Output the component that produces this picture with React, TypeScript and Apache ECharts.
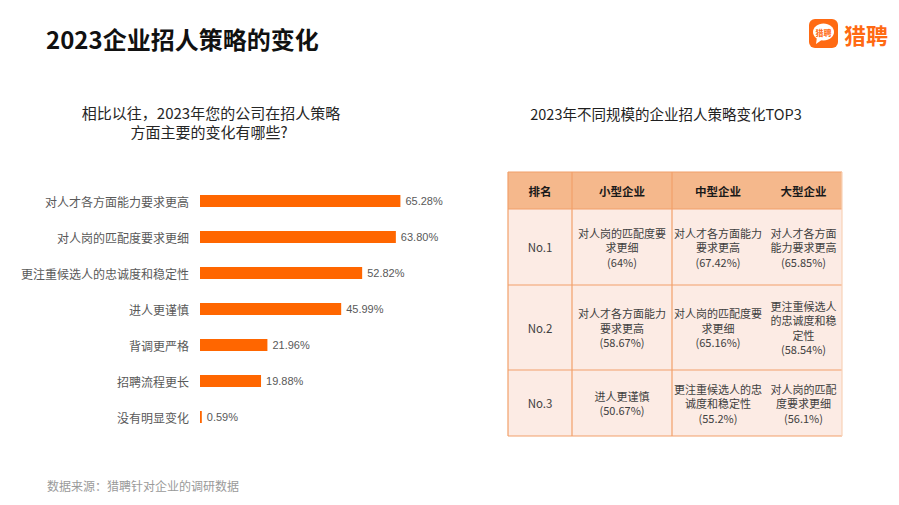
import React, { useEffect, useRef } from "react";
import * as echarts from "echarts";

const FONT = "'Noto Sans CJK SC', 'Noto Sans', sans-serif";

const pageTitle = "2023企业招人策略的变化";
const brandName = "猎聘";
const questionLines = ["相比以往，2023年您的公司在招人策略", "方面主要的变化有哪些?"];
const tableTitle = "2023年不同规模的企业招人策略变化TOP3";
const footnote = "数据来源：猎聘针对企业的调研数据";

const categories = [
  "对人才各方面能力要求更高",
  "对人岗的匹配度要求更细",
  "更注重候选人的忠诚度和稳定性",
  "进人更谨慎",
  "背调更严格",
  "招聘流程更长",
  "没有明显变化",
];
const values = [65.28, 63.8, 52.82, 45.99, 21.96, 19.88, 0.59];

const tableHeaders = ["排名", "小型企业", "中型企业", "大型企业"];
const ranks = ["No.1", "No.2", "No.3"];
const smallItems = ["对人岗的匹配度要\n求更细", "对人才各方面能力\n要求更高", "进人更谨慎"];
const smallPct = ["64%", "58.67%", "50.67%"];
const midItems = ["对人才各方面能力\n要求更高", "对人岗的匹配度要\n求更细", "更注重候选人的忠\n诚度和稳定性"];
const midPct = ["67.42%", "65.16%", "55.2%"];
const largeItems = ["对人才各方面\n能力要求更高", "更注重候选人\n的忠诚度和稳\n定性", "对人岗的匹配\n度要求更细"];
const largePct = ["65.85%", "58.54%", "56.1%"];

function txt(text: string, x: number, y: number, opts: any = {}) {
  const align = opts.align || "center";
  const valign = opts.valign || "middle";
  return {
    type: "text",
    silent: true,
    style: {
      text,
      x,
      y,
      fill: opts.fill || "#333",
      fontSize: opts.fontSize || 12,
      fontWeight: opts.fontWeight || "normal",
      fontFamily: FONT,
      lineHeight: opts.lineHeight,
      align,
      textAlign: align,
      verticalAlign: valign,
      textVerticalAlign: valign,
    },
  };
}

function buildTable() {
  const els: any[] = [];
  const colX = [508, 572, 672, 765, 842];
  const rowY = [172, 209, 285, 370, 436];
  const lineColor = "#F2A06A";
  els.push({ type: "rect", silent: true, shape: { x: colX[0], y: rowY[0], width: colX[4] - colX[0], height: rowY[1] - rowY[0] }, style: { fill: "#F5B88C" } });
  els.push({ type: "rect", silent: true, shape: { x: colX[0], y: rowY[1], width: colX[4] - colX[0], height: rowY[4] - rowY[1] }, style: { fill: "#FCEBE4" } });
  rowY.forEach((y) => {
    els.push({ type: "line", silent: true, shape: { x1: colX[0], y1: y, x2: colX[4], y2: y }, style: { stroke: lineColor, lineWidth: 1.2 } });
  });
  [colX[0], colX[1], colX[2]].forEach((x) => {
    els.push({ type: "line", silent: true, shape: { x1: x, y1: rowY[0], x2: x, y2: rowY[4] }, style: { stroke: lineColor, lineWidth: 1.2 } });
  });
  els.push({ type: "line", silent: true, shape: { x1: colX[4], y1: rowY[0], x2: colX[4], y2: rowY[4] }, style: { stroke: "#F9D2B8", lineWidth: 1.2 } });
  const centers = [540, 622, 718, 803.5];
  tableHeaders.forEach((h, i) => {
    els.push(txt(h, centers[i], (rowY[0] + rowY[1]) / 2, { fontSize: 11.5, fontWeight: "bold", fill: "#1a1a1a" }));
  });
  const cols = [
    [smallItems, smallPct],
    [midItems, midPct],
    [largeItems, largePct],
  ];
  ranks.forEach((r, i) => {
    const cy = (rowY[i + 1] + rowY[i + 2]) / 2;
    els.push(txt(r, centers[0], cy, { fontSize: 11.5, fill: "#404040" }));
    cols.forEach(([items, pct], j) => {
      const lines = (items[i] + "\n(" + pct[i] + ")").split("\n");
      const step = 14.5;
      const y0 = cy - ((lines.length - 1) * step) / 2;
      lines.forEach((ln, k) => {
        els.push(txt(ln, centers[j + 1], y0 + k * step, { fontSize: 11, fill: "#404040" }));
      });
    });
  });
  return els;
}

export default function App() {
  const ref = useRef<HTMLDivElement>(null);
  useEffect(() => {
    if (!ref.current) return;
    const chart = echarts.init(ref.current, undefined, { renderer: "svg" });
    const graphic: any[] = [
      txt(pageTitle, 46, 38, { align: "left", fontSize: 24, fontWeight: "bold", fill: "#111" }),
      {
        type: "line",
        silent: true,
        shape: { x1: 47, y1: 60, x2: 275, y2: 60 },
        style: {
          lineWidth: 2,
          stroke: new echarts.graphic.LinearGradient(0, 0, 1, 0, [
            { offset: 0, color: "#6FA8E6" },
            { offset: 0.5, color: "#C9A0B8" },
            { offset: 1, color: "#F58B4C" },
          ]),
        },
      },
      { type: "rect", silent: true, shape: { x: 809, y: 19, width: 29, height: 29, r: 6 }, style: { fill: "#FF6A13" } },
      { type: "ellipse", silent: true, shape: { cx: 823.5, cy: 32, rx: 10.5, ry: 8.5 }, style: { fill: "#fff" } },
      { type: "polygon", silent: true, shape: { points: [[817, 37], [816, 44], [823, 39]] }, style: { fill: "#fff" } },
      txt(brandName, 823.5, 32, { fontSize: 8, fontWeight: "bold", fill: "#FF6A13" }),
      txt(brandName, 844, 34, { align: "left", fontSize: 22, fontWeight: "bold", fill: "#FF6A13" }),
      txt(questionLines[0], 211, 112, { fontSize: 15, fill: "#262626" }),
      txt(questionLines[1], 209, 131, { fontSize: 15, fill: "#262626" }),
      txt(tableTitle, 666, 113, { fontSize: 14.5, fill: "#1f1f1f" }),
      txt(footnote, 47, 485, { align: "left", fontSize: 12, fill: "#9a9a9a" }),
      ...buildTable(),
    ];
    chart.setOption({
      animation: false,
      backgroundColor: "#fff",
      textStyle: { fontFamily: FONT },
      grid: { left: 200, top: 183, width: 307, height: 252, containLabel: false },
      xAxis: { type: "value", min: 0, max: 100, show: false },
      yAxis: {
        type: "category",
        data: categories,
        inverse: true,
        axisLine: { show: false },
        axisTick: { show: false },
        axisLabel: { color: "#595959", fontSize: 12, margin: 11, fontFamily: FONT },
      },
      series: [
        {
          type: "bar",
          data: values,
          barWidth: 12,
          itemStyle: { color: "#FF6600" },
          label: {
            show: true,
            position: "right",
            distance: 5,
            color: "#595959",
            fontSize: 11,
            fontFamily: "'Liberation Sans', Arial, sans-serif",
            formatter: (p: any) => Number(p.value).toFixed(2) + "%",
          },
        },
      ],
      graphic,
    });
    return () => chart.dispose();
  }, []);
  return <div ref={ref} style={{ position: "absolute", left: 0, top: 0, width: 899, height: 505 }} />;
}
